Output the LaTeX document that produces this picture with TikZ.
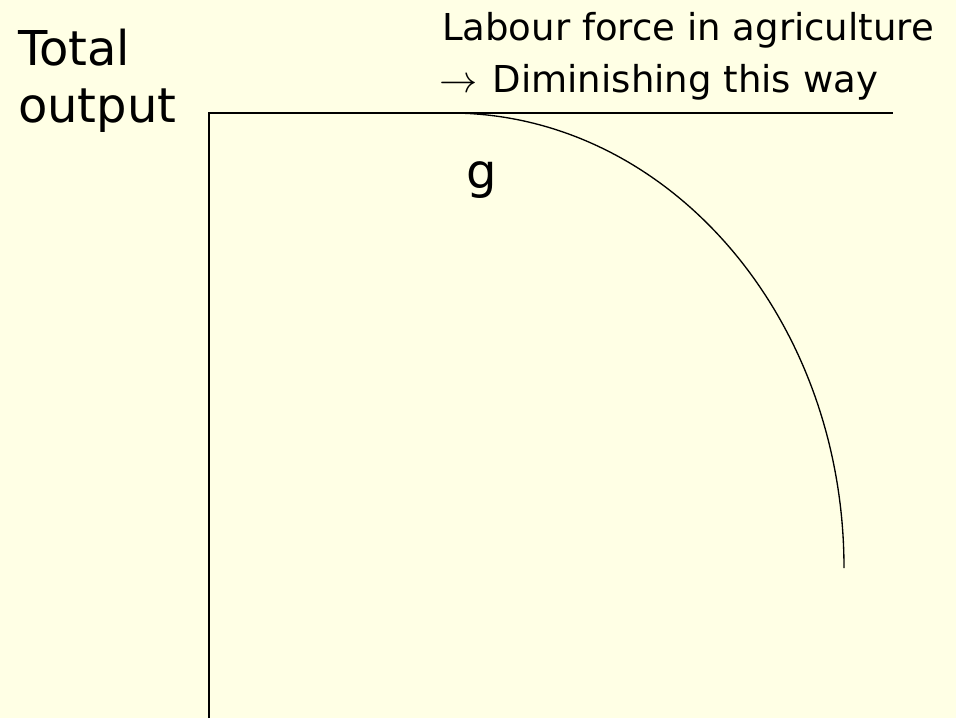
\documentclass[tikz,border=0pt]{standalone}
\usepackage{fontspec}
\setmainfont{DejaVu Sans}
\definecolor{bgyellow}{RGB}{255,255,229}
\tikzset{
  lbl/.style={anchor=base west, inner sep=0pt, outer sep=0pt},
  big/.style={lbl, font=\fontsize{36}{40}\selectfont},
  small/.style={lbl, font=\fontsize{27.8}{32}\selectfont},
  axis/.style={line width=1.1pt, black},
  curve/.style={line width=1pt, black}
}
\begin{document}
\begin{tikzpicture}[x=0.75pt,y=-0.75pt]
\fill[bgyellow] (0,0) rectangle (956,718);
\useasboundingbox (0,0) rectangle (956,718);
\node[big] (total) at (18,65) {Total};
\node[big] (output) at (18,122) {output};
\node[small] (labour) at (442,40) {Labour force in agriculture};
\node[small] (dimin) at (439,92) {\scalebox{1.15}{$\rightarrow$}\hspace{0.1em} Diminishing this way};
\node[big] (g) at (466,188) {g};
\coordinate (ybot) at (209,718);
\coordinate (orig) at (209,113);
\coordinate (xend) at (893,113);
\coordinate (cstart) at (450,113);
\draw[axis] (ybot) -- (orig) -- (xend);
\draw[curve] (cstart) arc[start angle=90, end angle=0, x radius=295.5pt, y radius=341.25pt] coordinate (cend);
\end{tikzpicture}
\end{document}
